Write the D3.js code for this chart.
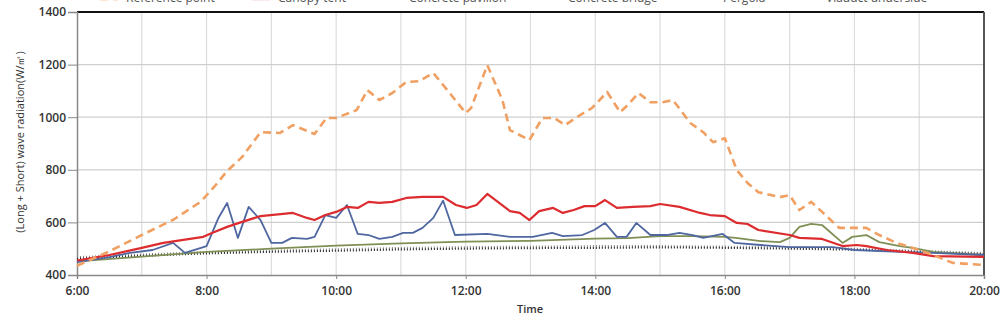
<!DOCTYPE html>
<html>
<head>
<meta charset="utf-8">
<script src="https://cdn.jsdelivr.net/npm/d3@7"></script>
<style>
  body { margin: 0; background: #fff; }
  svg text { font-family: "Open Sans", "Noto Sans", sans-serif; }
</style>
</head>
<body>
<div id="chart"></div>
<script>
// legend labels (top row is cut off in the original picture)
const seriesNames = ["Reference point", "Canopy tent", "Concrete pavilion", "Concrete bridge", "Pergola", "Viaduct underside"];

const xTickLabels = ["6:00", "8:00", "10:00", "12:00", "14:00", "16:00", "18:00", "20:00"];
const yTickValues = [400, 600, 800, 1000, 1200, 1400];

// reference point (orange dashed)
const refTimes = ["6:00","6:30","7:00","7:30","7:55","8:08","8:19","8:33","8:50","9:08","9:20","9:40","9:51","10:00","10:19","10:29","10:40","10:52","11:05","11:17","11:30","11:43","12:00","12:05","12:20","12:34","12:41","12:59","13:11","13:22","13:32","13:46","13:57","14:11","14:23","14:30","14:40","14:51","15:02","15:12","15:28","15:40","15:49","16:00","16:11","16:21","16:31","16:51","17:00","17:09","17:20","17:30","17:46","18:11","18:23","18:39","18:54","19:13","19:31","20:00"];
const refValues = [435,490,552,612,680,740,795,849,943,940,970,936,997,997,1027,1103,1065,1092,1134,1137,1168,1103,1016,1035,1198,1065,951,913,997,997,970,1008,1035,1096,1019,1046,1092,1057,1057,1065,978,943,905,920,799,750,715,696,704,647,678,640,579,579,552,522,503,476,446,438];

// canopy tent (red)
const tentTimes = ["6:00","6:30","7:00","7:20","7:57","8:05","8:19","8:33","8:50","9:20","9:33","9:40","9:50","10:00","10:10","10:20","10:30","10:40","10:52","11:05","11:20","11:39","11:51","12:01","12:10","12:20","12:41","12:50","12:59","13:08","13:21","13:30","13:40","13:50","14:00","14:09","14:20","14:35","14:51","15:00","15:18","15:37","15:46","16:00","16:11","16:21","16:31","17:00","17:09","17:30","17:49","18:02","18:11","18:30","18:54","19:13","20:00"];
const tentValues = [455,476,503,522,545,560,583,602,624,636,617,609,628,640,659,655,678,674,678,693,697,697,666,655,666,708,643,636,609,643,655,636,647,662,662,685,655,659,662,670,659,636,628,624,598,594,571,552,541,537,510,514,510,495,484,472,469];

// concrete pavilion (blue)
const pavTimes = ["6:00","6:30","6:49","7:10","7:29","7:40","8:00","8:11","8:19","8:29","8:39","8:50","9:00","9:10","9:19","9:33","9:40","9:50","10:00","10:10","10:20","10:30","10:40","10:52","11:02","11:11","11:20","11:30","11:39","11:50","12:20","12:41","13:02","13:20","13:30","13:48","13:59","14:09","14:20","14:29","14:38","14:51","15:06","15:18","15:30","15:40","15:58","16:09","16:33","17:00","17:40","18:00","18:42","19:13","20:00"];
const pavValues = [449,468,484,495,522,484,510,617,674,541,659,609,522,522,541,537,545,628,617,666,556,552,537,545,560,560,579,617,683,552,556,545,545,560,548,552,571,598,545,545,598,552,552,560,552,541,556,522,514,506,506,495,488,484,476];

// concrete bridge (olive green)
const bridgeTimes = ["6:00","7:00","8:00","9:00","10:00","11:00","12:00","13:00","14:00","14:30","15:00","15:30","16:00","16:10","16:33","16:51","17:00","17:09","17:20","17:30","17:49","17:58","18:11","18:23","18:42","18:54","19:13","20:00"];
const bridgeValues = [452,470,488,500,512,520,527,530,538,540,548,548,545,541,529,525,541,583,594,590,522,545,552,525,510,503,488,476];

// two dotted series near the bottom
const dotTimes = ["6:00","7:00","8:00","9:00","10:00","11:00","12:00","13:00","14:00","15:00","16:00","17:00","18:00","19:00","20:00"];
const pergolaValues = [462,473,482,488,492,497,500,502,503,505,503,500,496,488,480];
const viaductValues = [468,478,487,493,498,503,506,508,510,510,508,505,500,492,484];

const toHour = t => { let p = t.split(":"); return +p[0] + (+p[1]) / 60; };

const series = [
    {name: seriesNames[0], times: refTimes, values: refValues, color: "#f0a062", width: 2.6, dash: "8,5"},
    {name: seriesNames[1], times: tentTimes, values: tentValues, color: "#dd2c2f", width: 2.2, dash: null},
    {name: seriesNames[2], times: pavTimes, values: pavValues, color: "#4f67a0", width: 1.8, dash: null},
    {name: seriesNames[3], times: bridgeTimes, values: bridgeValues, color: "#7f8f55", width: 1.8, dash: null},
    {name: seriesNames[4], times: dotTimes, values: pergolaValues, color: "#222", width: 2, dash: "1,2"},
    {name: seriesNames[5], times: dotTimes, values: viaductValues, color: "#888", width: 2, dash: "1,2"}
];

const width = 1005, height = 318;
const svg = d3.select("#chart").append("svg")
    .attr("width", width)
    .attr("height", height);

// scales
const x = d3.scaleLinear().domain([6, 20]).range([77, 984]);
const y = d3.scaleLinear().domain([400, 1400]).range([275, 12]);

// grid lines
svg.append("g").selectAll("line")
    .data(d3.range(7, 20))
    .enter().append("line")
    .attr("x1", d => x(d)).attr("x2", d => x(d))
    .attr("y1", y(1400)).attr("y2", y(400))
    .attr("stroke", "#dcdcdc").attr("stroke-width", 1.2);

svg.append("g").selectAll("line")
    .data(yTickValues.slice(1, -1))
    .enter().append("line")
    .attr("x1", x(6)).attr("x2", x(20))
    .attr("y1", d => y(d)).attr("y2", d => y(d))
    .attr("stroke", "#cfcfcf").attr("stroke-width", 1.3);

// frame: thick top and right edges
svg.append("line")
    .attr("x1", x(6)).attr("x2", x(20))
    .attr("y1", y(1400)).attr("y2", y(1400))
    .attr("stroke", "#111").attr("stroke-width", 2);
svg.append("line")
    .attr("x1", x(20)).attr("x2", x(20))
    .attr("y1", y(1400)).attr("y2", y(400))
    .attr("stroke", "#555").attr("stroke-width", 2);

// axes
const yAxis = d3.axisLeft(y).tickValues(yTickValues).tickFormat(d3.format("d"))
    .tickSize(9).tickPadding(3);
const xAxis = d3.axisBottom(x).tickValues(d3.range(6, 21, 2))
    .tickFormat((d, i) => xTickLabels[i]).tickSize(4).tickPadding(7);

const gy = svg.append("g").attr("transform", "translate(" + x(6) + ",0)").call(yAxis);
const gx = svg.append("g").attr("transform", "translate(0," + y(400) + ")").call(xAxis);

[gx, gy].forEach(g => {
    g.select(".domain").attr("stroke", "#888").attr("stroke-width", 1.5);
    g.selectAll(".tick line").attr("stroke", "#888");
    g.selectAll("text")
        .attr("fill", "#333")
        .style("font-size", "12px")
        .style("font-weight", "600");
});
gy.selectAll(".tick text").attr("dx", "1px");

// axis titles
svg.append("text")
    .attr("transform", "translate(24,142) rotate(-90)")
    .attr("text-anchor", "middle")
    .attr("fill", "#333")
    .style("font-size", "11px")
    .text("(Long + Short) wave radiation(W/㎡)");

svg.append("text")
    .attr("x", 530).attr("y", 313)
    .attr("text-anchor", "middle")
    .attr("fill", "#333")
    .style("font-size", "11px")
    .style("font-weight", "600")
    .text("Time");

// lines
const line = d3.line()
    .x(d => x(d.h))
    .y(d => y(d.v));

const drawOrder = [5, 4, 3, 2, 1, 0];
drawOrder.forEach(i => {
    let s = series[i];
    let pts = s.times.map((t, j) => ({h: toHour(t), v: s.values[j]}));
    svg.append("path")
        .datum(pts)
        .attr("fill", "none")
        .attr("stroke", s.color)
        .attr("stroke-width", s.width)
        .attr("stroke-dasharray", s.dash)
        .attr("stroke-linejoin", "round")
        .attr("d", line);
});

// legend, mostly cut off by the top edge as in the source image
const legendX = [100, 252, 383, 542, 697, 800];
const legend = svg.append("g").attr("transform", "translate(0,2)");
series.forEach((s, i) => {
    let g = legend.append("g").attr("transform", "translate(" + legendX[i] + ",0)");
    g.append("line")
        .attr("x1", 0).attr("x2", 18)
        .attr("y1", -3).attr("y2", -3)
        .attr("stroke", s.color)
        .attr("stroke-width", s.width)
        .attr("stroke-dasharray", s.dash);
    g.append("text")
        .attr("x", 26).attr("y", 0)
        .attr("fill", "#555")
        .style("font-size", "12px")
        .text(s.name);
});
</script>
</body>
</html>
